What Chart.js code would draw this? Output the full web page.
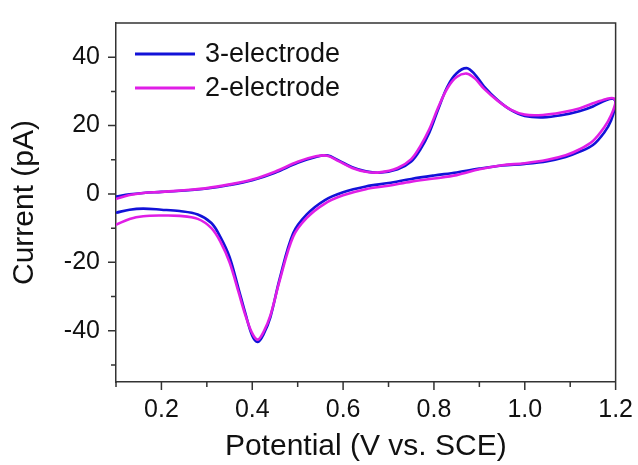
<!DOCTYPE html>
<html>
<head>
<meta charset="utf-8">
<script src="https://cdn.jsdelivr.net/npm/chart.js@4.4.1/dist/chart.umd.min.js"></script>
<style>
  html, body { margin: 0; padding: 0; background: #fff; }
</style>
</head>
<body>
<canvas id="cvChart" width="638" height="465"></canvas>
<script>
// potential sweep (V vs. SCE): forward scan then reverse scan
const forwardV = [0.10, 0.13, 0.16, 0.20, 0.25, 0.30, 0.35, 0.40, 0.45, 0.50, 0.54, 0.565, 0.59, 0.62, 0.65, 0.68, 0.72, 0.75,
    0.77, 0.79, 0.81, 0.83, 0.85, 0.872, 0.89, 0.91, 0.94, 0.97, 1.00, 1.04, 1.08, 1.12, 1.15, 1.18, 1.195];
const reverseV = [1.20, 1.19, 1.175, 1.15, 1.12, 1.09, 1.05, 1.00, 0.95, 0.90, 0.85, 0.80, 0.75, 0.70, 0.65, 0.60, 0.56, 0.52,
    0.49, 0.46, 0.44, 0.425, 0.412, 0.40, 0.385, 0.37, 0.35, 0.33, 0.31, 0.28, 0.24, 0.20, 0.16, 0.13, 0.10];

// current (pA)
const fwd3 = [-0.8, -0.1, 0.3, 0.6, 1.0, 1.6, 2.6, 4.0, 6.2, 9.1, 10.8, 11.3, 9.8, 7.8, 6.6, 6.2, 7.2, 9.5,
    13.0, 18.0, 25.0, 31.5, 35.3, 36.8, 35.0, 31.5, 27.5, 24.5, 22.8, 22.4, 23.0, 24.2, 25.6, 27.5, 27.8];
const rev3 = [26.5, 21.5, 18.0, 14.3, 12.3, 10.8, 9.6, 8.8, 8.3, 7.4, 6.3, 5.4, 4.4, 3.2, 2.2, 0.5, -1.8, -6.0,
    -11.5, -25.0, -36.0, -41.0, -43.3, -41.5, -35.0, -27.8, -18.4, -12.6, -8.5, -6.0, -5.0, -4.6, -4.3, -4.6, -5.5];
const fwd2 = [-1.5, -0.3, 0.3, 0.6, 1.1, 1.7, 2.8, 4.2, 6.5, 9.4, 11.0, 11.2, 9.6, 7.6, 6.5, 6.3, 7.6, 10.2,
    14.0, 19.0, 25.5, 31.0, 34.2, 35.2, 33.8, 30.8, 27.3, 24.6, 23.2, 23.1, 23.8, 25.0, 26.5, 27.8, 28.0];
const rev2 = [27.0, 23.0, 19.5, 15.5, 13.0, 11.3, 10.0, 9.0, 8.4, 7.2, 5.5, 4.5, 3.6, 2.4, 1.4, -0.4, -2.8, -7.0,
    -12.5, -25.5, -35.5, -40.3, -42.6, -40.8, -35.5, -28.8, -20.0, -14.0, -10.0, -7.3, -6.4, -6.3, -6.5, -7.3, -9.0];

const seriesNames = ['3-electrode', '2-electrode'];
const xMajor = [0.2, 0.4, 0.6, 0.8, 1.0, 1.2];
const xMinor = [0.1, 0.3, 0.5, 0.7, 0.9, 1.1];
const yMajor = [-40, -20, 0, 20, 40];
const yMinor = [-50, -30, -10, 10, 30];

const FONT = '"Liberation Sans", Arial, sans-serif';

const toPoints = (fv, fi, rv, ri) => fv.map((v, k) => ({x: v, y: fi[k]})).concat(rv.map((v, k) => ({x: v, y: ri[k]})));

// frame, minor/major ticks and the legend inside the plot
const axisExtras = {
    id: 'axisExtras',
    afterDraw(chart) {
        const {ctx, chartArea: a, scales: {x, y}} = chart;
        ctx.save();
        ctx.strokeStyle = '#333';
        ctx.lineWidth = 1.5;
        ctx.beginPath();
        ctx.moveTo(a.left, a.top);
        ctx.lineTo(a.right, a.top);
        ctx.lineTo(a.right, a.bottom);
        ctx.stroke();

        ctx.beginPath();
        xMajor.forEach(v => { const p = x.getPixelForValue(v); ctx.moveTo(p, a.bottom); ctx.lineTo(p, a.bottom + 8); });
        xMinor.forEach(v => { const p = x.getPixelForValue(v); ctx.moveTo(p, a.bottom); ctx.lineTo(p, a.bottom + 5); });
        yMajor.forEach(v => { const p = y.getPixelForValue(v); ctx.moveTo(a.left, p); ctx.lineTo(a.left - 8, p); });
        yMinor.forEach(v => { const p = y.getPixelForValue(v); ctx.moveTo(a.left, p); ctx.lineTo(a.left - 5, p); });
        ctx.stroke();

        // legend
        ctx.font = '27px ' + FONT;
        ctx.textBaseline = 'middle';
        ctx.fillStyle = '#111';
        chart.data.datasets.forEach((ds, k) => {
            const ly = a.top + 31 + k * 34;
            ctx.strokeStyle = ds.borderColor;
            ctx.lineWidth = 2.8;
            ctx.beginPath();
            ctx.moveTo(a.left + 19, ly);
            ctx.lineTo(a.left + 79, ly);
            ctx.stroke();
            ctx.fillText(ds.label, a.left + 89, ly + 1);
        });
        ctx.restore();
    }
};

new Chart(document.getElementById('cvChart'), {
    type: 'scatter',
    data: {
        datasets: [{
            label: seriesNames[0],
            data: toPoints(forwardV, fwd3, reverseV, rev3),
            borderColor: '#1212d8',
            order: 1,
        }, {
            label: seriesNames[1],
            data: toPoints(forwardV, fwd2, reverseV, rev2),
            borderColor: '#e01ee6',
            order: 0,
        }]
    },
    options: {
        responsive: false,
        animation: false,
        showLine: true,
        elements: {
            point: {radius: 0, hoverRadius: 0},
            line: {borderWidth: 2.6, tension: 0.35, fill: false}
        },
        layout: {padding: {left: 0, right: 20, top: 16, bottom: 0}},
        plugins: {legend: {display: false}, tooltip: {enabled: false}},
        scales: {
            x: {
                type: 'linear',
                min: 0.1,
                max: 1.2,
                afterBuildTicks: s => { s.ticks = xMajor.map(v => ({value: v})); },
                afterFit: s => { s.height = 83; },
                grid: {display: false, drawTicks: true, tickLength: 8},
                border: {display: true, color: '#333', width: 1.5},
                ticks: {
                    color: '#111',
                    padding: 5,
                    maxRotation: 0,
                    font: {family: FONT, size: 25},
                    callback: v => v.toFixed(1)
                },
                title: {
                    display: true,
                    text: 'Potential (V vs. SCE)',
                    color: '#111',
                    font: {family: FONT, size: 30},
                    padding: {top: 0, bottom: 0}
                }
            },
            y: {
                type: 'linear',
                min: -55,
                max: 50,
                afterBuildTicks: s => { s.ticks = yMajor.map(v => ({value: v})); },
                afterFit: s => { s.width = 116; },
                grid: {display: false, drawTicks: true, tickLength: 8},
                border: {display: true, color: '#333', width: 1.5},
                ticks: {
                    color: '#111',
                    padding: 8,
                    font: {family: FONT, size: 25},
                    callback: v => String(v)
                },
                title: {
                    display: true,
                    text: 'Current (pA)',
                    color: '#111',
                    font: {family: FONT, size: 30},
                    padding: {top: 7, bottom: 0}
                }
            }
        }
    },
    plugins: [axisExtras]
});
</script>
</body>
</html>
